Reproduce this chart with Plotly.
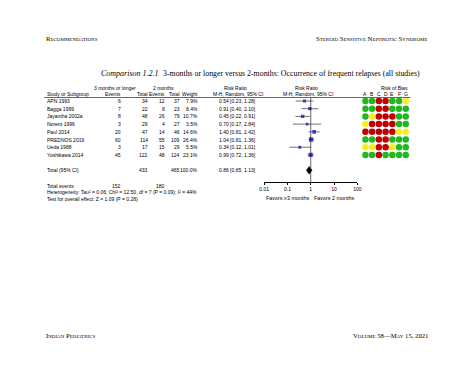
import plotly.graph_objects as go

# ---------------- data ----------------
studies = ["APN 1993", "Bagga 1999", "Jayantha 2002a", "Norero 1996", "Paul 2014",
           "PREDNOS 2019", "Ueda 1988", "Yoshikawa 2014"]
ev_long = [6, 7, 8, 3, 20, 60, 3, 45]
tot_long = [34, 22, 48, 29, 47, 114, 17, 122]
ev_2m = [12, 8, 26, 4, 14, 55, 15, 48]
tot_2m = [37, 23, 79, 27, 46, 109, 29, 124]
weights = [7.9, 8.4, 10.7, 3.5, 14.6, 26.4, 5.5, 23.1]
rr = [0.54, 0.91, 0.45, 0.70, 1.40, 1.04, 0.34, 0.99]
rr_lo = [0.23, 0.40, 0.22, 0.17, 0.81, 0.81, 0.12, 0.72]
rr_hi = [1.28, 2.10, 0.91, 2.84, 2.42, 1.36, 1.01, 1.36]
total_long, total_2m = 433, 465
total_weight = 100.0
total_ev_long, total_ev_2m = 152, 180
total_rr, total_lo, total_hi = 0.86, 0.65, 1.13
tick_vals = [0.01, 0.1, 1, 10, 100]
tick_text = ["0.01", "0.1", "1", "10", "100"]
bias_domains = ["A", "B", "C", "D", "E", "F", "G"]
# G = low risk, R = high risk, Y = unclear
bias = [
    "GGRRGGY",
    "GGRRGGG",
    "GYRRRGG",
    "YRRRRGG",
    "RRRRRYY",
    "GGRRGGG",
    "YYRRYGG",
    "GGRGGGG",
]
heterogeneity = "Heterogeneity: Tau² = 0.06; Chi² = 12.50, df = 7 (P = 0.09); I² = 44%"
overall = "Test for overall effect: Z = 1.09 (P = 0.28)"

# ---------------- layout helpers ----------------
W, H = 474, 366
OFF = 8  # page body margin of the html document
def px(x):
    return (x - OFF) / W
def py(y):
    return 1 - (y - OFF) / H

ROW0, DROW = 101.0, 7.7           # page y of first study row and row step
def row_of(ypix):
    return (ypix - ROW0) / DROW
def rowy(r):
    return py(ROW0 + r * DROW)
y_top_pix, y_axis_pix = 97.5, 182.0
TOTAL_ROW = 9
EVENTS_ROW = 11

SANS = "Liberation Sans, Arial, sans-serif"
SERIF = "Liberation Serif, Times New Roman, serif"
FS = 5.0
BLUE = "#0000c8"
COL = {"G": "#1fb81f", "R": "#c00000", "Y": "#f5ef1f"}

fig = go.Figure()

# CI lines and squares
for i in range(len(studies)):
    fig.add_trace(go.Scatter(x=[rr_lo[i], rr_hi[i]], y=[i, i], mode="lines",
                             line=dict(color="#333333", width=0.7),
                             hoverinfo="skip", showlegend=False))
fig.add_trace(go.Scatter(x=rr, y=list(range(len(studies))), mode="markers",
                         marker=dict(symbol="square", color=BLUE,
                                     size=[1.6 + 0.55 * w ** 0.5 for w in weights],
                                     line=dict(width=0)),
                         showlegend=False, hoverinfo="skip"))
# pooled diamond
fig.add_trace(go.Scatter(x=[total_lo, total_rr, total_hi, total_rr, total_lo],
                         y=[TOTAL_ROW, TOTAL_ROW - 0.5, TOTAL_ROW, TOTAL_ROW + 0.5, TOTAL_ROW],
                         mode="lines", fill="toself", fillcolor="black",
                         line=dict(color="black", width=0.5),
                         showlegend=False, hoverinfo="skip"))

# risk of bias dots
bx, by, bc = [], [], []
for i, row in enumerate(bias):
    for j, c in enumerate(row):
        bx.append(j); by.append(i); bc.append(COL[c])
fig.add_trace(go.Scatter(x=bx, y=by, xaxis="x2", yaxis="y", mode="markers",
                         marker=dict(symbol="circle", size=6.5, color=bc, line=dict(width=0)),
                         showlegend=False, hoverinfo="skip"))

ann = []
def text(x, y, s, anchor="left", size=FS, yref="paper", family=SANS, xref="paper", **kw):
    ann.append(dict(x=x, y=y, xref=xref, yref=yref, text=s, showarrow=False,
                    xanchor=anchor, yanchor="middle",
                    font=dict(size=size, family=family, color="black", **kw)))

# page header / footer
HF = 6.7
text(px(40), py(39), "Recommendations", size=HF, family=SERIF, variant="small-caps")
text(px(433), py(39), "Steroid Sensitive Nephrotic Syndrome", anchor="right",
     size=HF, family=SERIF, variant="small-caps")
text(px(40), py(335), "Indian Pediatrics", size=HF, family=SERIF, variant="small-caps")
text(px(433), py(335), "Volume 58—May 15, 2021", anchor="right",
     size=HF, family=SERIF, variant="small-caps")

# title
text(px(96), py(74), "<i>Comparison 1.2.1</i>", size=8, family=SERIF)
text(px(159), py(74), "3-months or longer versus 2-months: Occurrence of frequent relapses (all studies)",
     size=7.85, family=SERIF)

# column headers (page coordinates)
h1, h2 = py(88), py(94)
text(px(112), h1, "3 months or longer", anchor="center")
text(px(161), h1, "2 months", anchor="center")
text(px(235), h1, "Risk Ratio", anchor="center")
text(px(307.5), h1, "Risk Ratio", anchor="center")
text(px(397), h1, "Risk of Bias", anchor="center")
text(px(41), h2, "Study or Subgroup")
text(px(120), h2, "Events", anchor="right")
text(px(148), h2, "Total", anchor="right")
text(px(164.5), h2, "Events", anchor="right")
text(px(180), h2, "Total", anchor="right")
text(px(198.5), h2, "Weight", anchor="right")
text(px(237), h2, "M-H, Random, 95% CI", anchor="center")
text(px(309), h2, "M-H, Random, 95% CI", anchor="center")
for j, d in enumerate(bias_domains):
    text(j, h2, d, anchor="center", xref="x2")

# study rows
for i in range(len(studies)):
    y = rowy(i)
    text(px(41), y, studies[i])
    text(px(120), y, str(ev_long[i]), anchor="right")
    text(px(148), y, str(tot_long[i]), anchor="right")
    text(px(164.5), y, str(ev_2m[i]), anchor="right")
    text(px(180), y, str(tot_2m[i]), anchor="right")
    text(px(198.5), y, f"{weights[i]:.1f}%", anchor="right")
    text(px(258), y, f"{rr[i]:.2f} [{rr_lo[i]:.2f}, {rr_hi[i]:.2f}]", anchor="right")

# total rows
yt = rowy(TOTAL_ROW)
text(px(41), yt, "Total (95% CI)")
text(px(148), yt, str(total_long), anchor="right")
text(px(180), yt, str(total_2m), anchor="right")
text(px(198.5), yt, f"{total_weight:.1f}%", anchor="right")
text(px(258), yt, f"{total_rr:.2f} [{total_lo:.2f}, {total_hi:.2f}]", anchor="right")
ye = rowy(EVENTS_ROW)
text(px(41), ye, "Total events")
text(px(120), ye, str(total_ev_long), anchor="right")
text(px(164.5), ye, str(total_ev_2m), anchor="right")
text(px(41), py(192), heterogeneity)
text(px(41), py(198.5), overall)

# favours labels (positioned in axis data units, log10)
for xv, s in [(-1, "Favors ≥3 months"), (1, "Favors 2 months")]:
    text(xv, py(198), s, anchor="center", xref="x", size=FS + 0.4)

shapes = [
    # header underline
    dict(type="line", xref="paper", yref="paper", x0=px(40), x1=px(413), y0=py(y_top_pix),
         y1=py(y_top_pix), line=dict(color="black", width=0.6)),
    # null line at RR = 1
    dict(type="line", xref="x", yref="y", x0=1, x1=1, y0=row_of(y_top_pix), y1=row_of(y_axis_pix),
         line=dict(color="black", width=0.6)),
]

fig.update_layout(
    width=W, height=H, autosize=False,
    margin=dict(l=0, r=0, t=0, b=0),
    paper_bgcolor="white", plot_bgcolor="rgba(0,0,0,0)",
    showlegend=False,
    annotations=ann, shapes=shapes,
    xaxis=dict(type="log", range=[-2, 2], domain=[px(264), px(359)], anchor="y",
               tickvals=tick_vals, ticktext=tick_text, showgrid=False, zeroline=False,
               showline=True, linecolor="black", linewidth=0.6,
               ticks="outside", ticklen=2.5, tickwidth=0.6, tickcolor="black",
               tickfont=dict(size=FS, family=SANS, color="black")),
    xaxis2=dict(range=[-0.5, 6.5], domain=[px(363.8), px(411.8)], anchor="y",
                visible=False, fixedrange=True),
    yaxis=dict(range=[row_of(y_axis_pix), row_of(y_top_pix)],
               domain=[py(y_axis_pix), py(y_top_pix)], visible=False),
)

fig.write_html("out.html")
